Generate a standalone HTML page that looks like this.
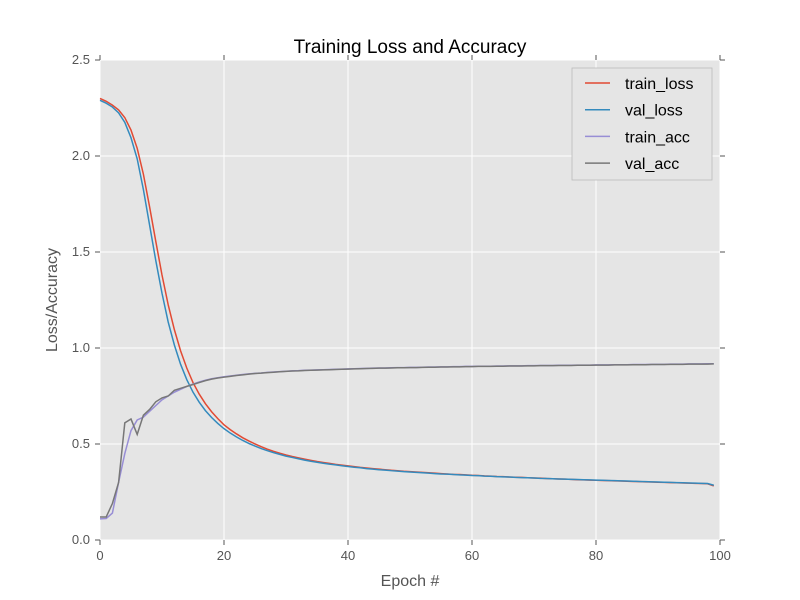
<!DOCTYPE html>
<html><head><meta charset="utf-8"><style>body{margin:0;background:#fff}svg{display:block}text{font-family:"Liberation Sans","DejaVu Sans",sans-serif}</style></head>
<body>
<svg id="chart" width="800" height="600">
<rect x="100" y="60" width="620" height="480" fill="#e5e5e5"/>
<g id="grid"></g><g id="ticks"></g><g id="series"></g>
<text x="410" y="53" text-anchor="middle" font-size="19" fill="#000">Training Loss and Accuracy</text>
<text x="410" y="586" text-anchor="middle" font-size="16" fill="#555">Epoch #</text>
<text x="57" y="300" text-anchor="middle" font-size="16" fill="#555" transform="rotate(-90 57 300)">Loss/Accuracy</text>
<g>
<rect x="572" y="68" width="140" height="112" fill="#e5e5e5" stroke="#bbb" stroke-width="0.8"/>
<g id="legend"></g></g>
</svg>
<script>
const epochs=[];for(let i=0;i<100;i++)epochs.push(i);
const trainLoss=[2.300,2.285,2.265,2.240,2.200,2.135,2.040,1.905,1.735,1.555,1.380,1.225,1.095,0.985,0.895,0.820,0.760,0.710,0.668,0.632,
0.600,0.575,0.553,0.533,0.516,0.500,0.486,0.473,0.462,0.452,0.443,0.435,0.428,0.421,0.415,0.409,0.404,0.399,0.394,0.390,
0.386,0.382,0.378,0.375,0.372,0.369,0.366,0.363,0.361,0.358,0.356,0.354,0.352,0.350,0.348,0.346,0.344,0.342,0.341,0.339,
0.337,0.336,0.334,0.333,0.331,0.330,0.328,0.327,0.326,0.324,0.323,0.322,0.320,0.319,0.318,0.317,0.316,0.314,0.313,0.312,
0.311,0.310,0.309,0.308,0.307,0.306,0.305,0.304,0.303,0.302,0.301,0.300,0.299,0.298,0.297,0.296,0.295,0.294,0.293,0.282];
const valLoss=[2.290,2.275,2.255,2.225,2.175,2.095,1.985,1.825,1.640,1.455,1.285,1.135,1.015,0.915,0.835,0.770,0.718,0.674,0.638,0.607,
0.580,0.557,0.537,0.519,0.503,0.489,0.476,0.465,0.455,0.446,0.437,0.430,0.423,0.416,0.410,0.405,0.400,0.395,0.391,0.387,
0.383,0.379,0.376,0.372,0.369,0.366,0.364,0.361,0.359,0.356,0.354,0.352,0.350,0.348,0.346,0.344,0.343,0.341,0.339,0.338,
0.336,0.335,0.333,0.332,0.330,0.329,0.328,0.326,0.325,0.324,0.323,0.321,0.320,0.319,0.318,0.317,0.316,0.315,0.314,0.313,
0.312,0.311,0.310,0.309,0.308,0.307,0.306,0.305,0.304,0.303,0.302,0.301,0.300,0.299,0.298,0.297,0.296,0.295,0.294,0.285];
const trainAcc=[0.110,0.112,0.140,0.300,0.450,0.570,0.625,0.640,0.670,0.700,0.730,0.750,0.770,0.785,0.800,0.812,0.823,0.832,0.840,0.845,
0.850,0.854,0.858,0.862,0.865,0.868,0.870,0.873,0.875,0.877,0.879,0.881,0.882,0.884,0.885,0.886,0.887,0.888,0.889,0.890,
0.891,0.892,0.893,0.894,0.895,0.896,0.896,0.897,0.898,0.898,0.899,0.899,0.900,0.901,0.901,0.902,0.902,0.903,0.903,0.904,
0.904,0.905,0.905,0.905,0.906,0.906,0.907,0.907,0.907,0.908,0.908,0.909,0.909,0.909,0.910,0.910,0.910,0.911,0.911,0.911,
0.912,0.912,0.912,0.913,0.913,0.913,0.914,0.914,0.914,0.915,0.915,0.915,0.916,0.916,0.916,0.917,0.917,0.917,0.918,0.918];
const valAcc=[0.120,0.120,0.190,0.300,0.610,0.630,0.550,0.650,0.680,0.720,0.740,0.750,0.780,0.790,0.800,0.810,0.820,0.830,0.838,0.844,
0.848,0.852,0.857,0.860,0.864,0.867,0.869,0.872,0.874,0.876,0.878,0.880,0.881,0.883,0.884,0.885,0.886,0.887,0.888,0.889,
0.890,0.891,0.892,0.893,0.894,0.895,0.895,0.896,0.897,0.897,0.898,0.898,0.899,0.900,0.900,0.901,0.901,0.902,0.902,0.903,
0.903,0.904,0.904,0.904,0.905,0.905,0.906,0.906,0.906,0.907,0.907,0.908,0.908,0.908,0.909,0.909,0.909,0.910,0.910,0.910,
0.911,0.911,0.911,0.912,0.912,0.912,0.913,0.913,0.913,0.914,0.914,0.914,0.915,0.915,0.915,0.916,0.916,0.916,0.916,0.917];
const xTicks=[0,20,40,60,80,100];
const yTicks=[0.0,0.5,1.0,1.5,2.0,2.5];
const seriesNames=["train_loss","val_loss","train_acc","val_acc"];
const seriesColors=["#e24a33","#348abd","#988ed5","#777777"];
const seriesData=[trainLoss,valLoss,trainAcc,valAcc];

const X=v=>100+v/100*620, Y=v=>540-v/2.5*480;
const NS="http://www.w3.org/2000/svg";
function mk(tag,attrs,parent){const e=document.createElementNS(NS,tag);for(const k in attrs)e.setAttribute(k,attrs[k]);parent.appendChild(e);return e;}
const grid=document.getElementById('grid'),ticks=document.getElementById('ticks'),series=document.getElementById('series'),legend=document.getElementById('legend');
xTicks.forEach(t=>{
 const g=mk('line',{x1:X(t),x2:X(t),y1:60,y2:540,stroke:'#fff','stroke-width':1},grid);
 
 
 mk('line',{x1:X(t),x2:X(t),y1:540,y2:545,stroke:'#555'},ticks);
 mk('line',{x1:X(t),x2:X(t),y1:55,y2:60,stroke:'#555'},ticks);
 const l=mk('text',{x:X(t),y:560,'text-anchor':'middle','font-size':13,fill:'#555'},ticks);
 l.textContent=t;
 
 
});
yTicks.forEach(t=>{
 const g=mk('line',{x1:100,x2:720,y1:Y(t),y2:Y(t),stroke:'#fff','stroke-width':1},grid);
 
 
 mk('line',{x1:95,x2:100,y1:Y(t),y2:Y(t),stroke:'#555'},ticks);
 mk('line',{x1:720,x2:725,y1:Y(t),y2:Y(t),stroke:'#555'},ticks);
 const l=mk('text',{x:90,y:Y(t)+4,'text-anchor':'end','font-size':13,fill:'#555'},ticks);
 l.textContent=t.toFixed(1);
 
 
});
seriesData.forEach((d,i)=>{
 const p=mk('polyline',{points:d.map((v,j)=>X(epochs[j])+','+Y(v)).join(' '),fill:'none',stroke:seriesColors[i],'stroke-width':1.5},series);
 
 
 const y=83+i*26.7;
 mk('line',{x1:585,x2:610,y1:y,y2:y,stroke:seriesColors[i],'stroke-width':1.5},legend);
 const t=mk('text',{x:625,y:y+6,'font-size':16,fill:'#000'},legend);
 t.textContent=seriesNames[i];
 
 
});
</script>
</body></html>
